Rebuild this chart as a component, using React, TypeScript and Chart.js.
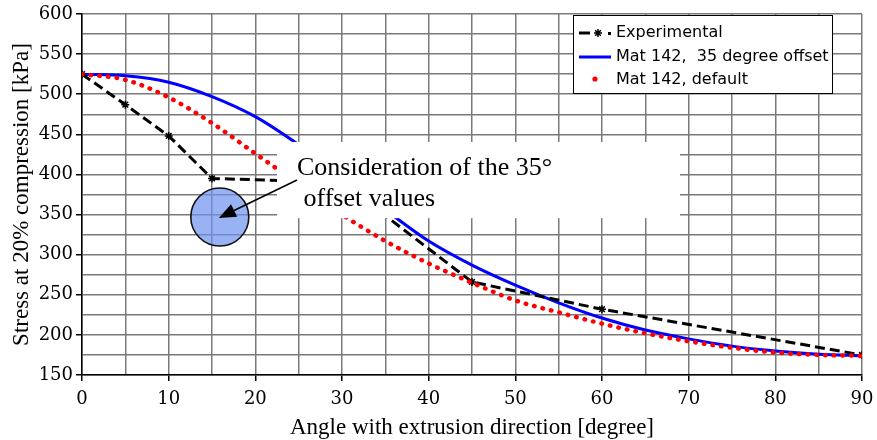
import { useEffect, useRef } from "react";
import { Chart, registerables } from "chart.js";

Chart.register(...registerables);

// ---------- data ----------
const seriesLabels = ["Experimental", "Mat 142,  35 degree offset", "Mat 142, default"];

const expAngles = [0, 5, 10, 15, 30, 45, 60, 90];
const expStress = [525, 487, 448, 395, 390, 266, 232, 175];

const modelAngles = [0, 5, 10, 15, 20, 25, 30, 35, 40, 45, 50, 55, 60, 65, 70, 75, 80, 85, 90];
const offsetStress = [525, 523, 515, 497, 472, 437, 397, 356, 317, 287, 262, 240, 221, 206, 195, 186, 180, 176, 174];
const defaultStress = [525, 518, 496, 464, 426, 388, 350, 317, 289, 265, 243, 228, 214, 202, 192, 184, 178, 175, 174];

const xTickLabels = [0, 10, 20, 30, 40, 50, 60, 70, 80, 90];
const yTickLabels = [150, 200, 250, 300, 350, 400, 450, 500, 550, 600];

const xTitle = "Angle with extrusion direction [degree]";
const yTitle = "Stress at 20% compression [kPa]";
const noteLines = ["Consideration of the 35\u00B0", " offset values"];

// annotation anchors in data units
const noteBox = { x0: 22.5, x1: 69, y0: 440.5, y1: 345.5 };
const noteCircle = { x: 15.9, y: 347 };

const SERIF = '"Liberation Serif", "Times New Roman", serif';
const TICKFONT = '"DejaVu Serif", serif';
const SANS = '"DejaVu Sans", "Liberation Sans", sans-serif';

function drawStar(ctx: CanvasRenderingContext2D, x: number, y: number, r: number) {
  ctx.beginPath();
  for (let i = 0; i < 4; i++) {
    const a = (i * Math.PI) / 4;
    ctx.moveTo(x - Math.cos(a) * r, y - Math.sin(a) * r);
    ctx.lineTo(x + Math.cos(a) * r, y + Math.sin(a) * r);
  }
  ctx.stroke();
}

const overlayPlugin = {
  id: "overlay",
  afterDatasetsDraw(chart: any) {
    const { ctx, scales } = chart;
    const x = scales.x;
    const y = scales.y;
    ctx.save();
    // white text box covering part of plot
    const bx0 = x.getPixelForValue(noteBox.x0);
    const bx1 = x.getPixelForValue(noteBox.x1);
    const by0 = y.getPixelForValue(noteBox.y0);
    const by1 = y.getPixelForValue(noteBox.y1);
    ctx.fillStyle = "#ffffff";
    ctx.fillRect(bx0, by0, bx1 - bx0, by1 - by0);

    // circle
    const cx = x.getPixelForValue(noteCircle.x);
    const cy = y.getPixelForValue(noteCircle.y);
    ctx.beginPath();
    ctx.arc(cx, cy, 29, 0, Math.PI * 2);
    ctx.fillStyle = "rgba(110,145,240,0.7)";
    ctx.fill();
    ctx.lineWidth = 1.6;
    ctx.strokeStyle = "#111";
    ctx.stroke();

    // arrow
    const sx = bx0 + 20;
    const sy = by0 + 38;
    const tx = cx - 1;
    const ty = cy + 1;
    const dx = tx - sx;
    const dy = ty - sy;
    const len = Math.hypot(dx, dy);
    const ux = dx / len;
    const uy = dy / len;
    const headL = 17;
    const headW = 7;
    const baseX = tx - ux * headL;
    const baseY = ty - uy * headL;
    ctx.beginPath();
    ctx.moveTo(sx, sy);
    ctx.lineTo(baseX, baseY);
    ctx.lineWidth = 1.6;
    ctx.strokeStyle = "#000";
    ctx.stroke();
    ctx.beginPath();
    ctx.moveTo(tx, ty);
    ctx.lineTo(baseX - uy * headW, baseY + ux * headW);
    ctx.lineTo(baseX + uy * headW, baseY - ux * headW);
    ctx.closePath();
    ctx.fillStyle = "#000";
    ctx.fill();

    // note text
    ctx.font = `26px ${SERIF}`;
    ctx.textBaseline = "alphabetic";
    ctx.textAlign = "left";
    ctx.fillStyle = "#000";
    ctx.fillText(noteLines[0], bx0 + 20, by0 + 33);
    ctx.fillText(noteLines[1], bx0 + 20, by0 + 64);
    ctx.restore();
  },
  afterDraw(chart: any) {
    const { ctx } = chart;
    ctx.save();
    // legend box
    const L = 573, T = 15, R = 833, B = 94;
    ctx.fillStyle = "#fff";
    ctx.fillRect(L, T, R - L, B - T);
    ctx.lineWidth = 1;
    ctx.strokeStyle = "#000";
    ctx.strokeRect(L + 0.5, T + 0.5, R - L - 1, B - T - 1);

    const rows = [33, 57, 80];
    // experimental sample
    ctx.strokeStyle = "#000";
    ctx.lineWidth = 3;
    ctx.beginPath();
    ctx.moveTo(579, rows[0]);
    ctx.lineTo(590, rows[0]);
    ctx.stroke();
    ctx.lineWidth = 1.5;
    drawStar(ctx, 598, rows[0], 4);
    ctx.fillStyle = "#000";
    ctx.fillRect(608, rows[0] - 1, 3, 3);
    // blue sample
    ctx.strokeStyle = "#0000ff";
    ctx.lineWidth = 3;
    ctx.beginPath();
    ctx.moveTo(579, rows[1]);
    ctx.lineTo(611, rows[1]);
    ctx.stroke();
    // red sample
    ctx.fillStyle = "#ff0000";
    ctx.beginPath();
    ctx.arc(595, rows[2] - 1, 2.6, 0, Math.PI * 2);
    ctx.fill();

    ctx.fillStyle = "#000";
    ctx.font = `16px ${SANS}`;
    ctx.textBaseline = "middle";
    ctx.textAlign = "left";
    seriesLabels.forEach((t, i) => ctx.fillText(t, 616, rows[i]));
    ctx.restore();
  },
};

export default function App() {
  const ref = useRef<HTMLCanvasElement>(null);
  useEffect(() => {
    document.body.style.margin = "0";
    const canvas = ref.current!;
    const chart = new Chart(canvas, {
      type: "line",
      data: {
        datasets: [
          {
            label: seriesLabels[2],
            data: modelAngles.map((a, i) => ({ x: a, y: defaultStress[i] })),
            borderColor: "#ff0000",
            backgroundColor: "#ff0000",
            borderWidth: 4.5,
            borderDash: [0.5, 8.2],
            borderCapStyle: "round",
            cubicInterpolationMode: "monotone",
            pointRadius: 0,
            fill: false,
          },
          {
            label: seriesLabels[0],
            data: expAngles.map((a, i) => ({ x: a, y: expStress[i] })),
            borderColor: "#000",
            backgroundColor: "#000",
            borderWidth: 3,
            borderDash: [10, 5],
            tension: 0,
            pointStyle: "star",
            pointRadius: 4,
            pointBorderWidth: 1.5,
            pointBorderColor: "#000",
            fill: false,
          },
          {
            label: seriesLabels[1],
            data: modelAngles.map((a, i) => ({ x: a, y: offsetStress[i] })),
            borderColor: "#0000ff",
            backgroundColor: "#0000ff",
            borderWidth: 3,
            cubicInterpolationMode: "monotone",
            pointRadius: 0,
            fill: false,
          },
        ],
      },
      options: {
        responsive: false,
        animation: false,
        devicePixelRatio: 1,
        layout: { padding: { left: 0, top: 14, right: 15, bottom: 0 } },
        plugins: { legend: { display: false }, tooltip: { enabled: false } },
        scales: {
          x: {
            type: "linear",
            min: 0,
            max: 90,
            afterFit: (s: any) => {
              s.height = 65;
              s.paddingLeft = 0;
              s.paddingRight = 0;
            },
            afterBuildTicks: (s: any) => {
              const t: any[] = [];
              for (let v = 0; v <= 90; v += 5) t.push({ value: v });
              s.ticks = t;
            },
            ticks: {
              autoSkip: false,
              maxRotation: 0,
              padding: 8,
              color: "#000",
              font: { family: TICKFONT, size: 18 },
              callback: (v: any) => (xTickLabels.includes(v) ? String(v) : ""),
            },
            grid: {
              color: "#7a7a7a",
              lineWidth: 1.5,
              tickLength: 6,
              tickWidth: 1.5,
              tickColor: (c: any) => (c.tick && xTickLabels.includes(c.tick.value) ? "#000" : "rgba(0,0,0,0)"),
            },
            border: { color: "#000", width: 1.5 },
            title: {
              display: true,
              text: xTitle,
              color: "#000",
              font: { family: SERIF, size: 23 },
              padding: { top: 0, bottom: -2 },
            },
          },
          y: {
            type: "linear",
            min: 150,
            max: 600,
            afterFit: (s: any) => {
              s.width = 82;
              s.paddingTop = 0;
              s.paddingBottom = 0;
            },
            afterBuildTicks: (s: any) => {
              const t: any[] = [];
              for (let v = 150; v <= 600; v += 25) t.push({ value: v });
              s.ticks = t;
            },
            ticks: {
              autoSkip: false,
              padding: 3,
              color: "#000",
              font: { family: TICKFONT, size: 18 },
              callback: (v: any) => (yTickLabels.includes(v) ? String(v) : ""),
            },
            grid: {
              color: "#7a7a7a",
              lineWidth: 1.5,
              tickLength: 6,
              tickWidth: 1.5,
              tickColor: (c: any) => (c.tick && yTickLabels.includes(c.tick.value) ? "#000" : "rgba(0,0,0,0)"),
            },
            border: { color: "#000", width: 1.5 },
            title: {
              display: true,
              text: yTitle,
              color: "#000",
              font: { family: SERIF, size: 23 },
              padding: { top: 8, bottom: 0 },
            },
          },
        },
      },
      plugins: [overlayPlugin],
    } as any);
    return () => chart.destroy();
  }, []);
  return (
    <div style={{ position: "relative", width: 877, height: 440 }}>
      <canvas ref={ref} width={877} height={440} style={{ display: "block" }} />
    </div>
  );
}
